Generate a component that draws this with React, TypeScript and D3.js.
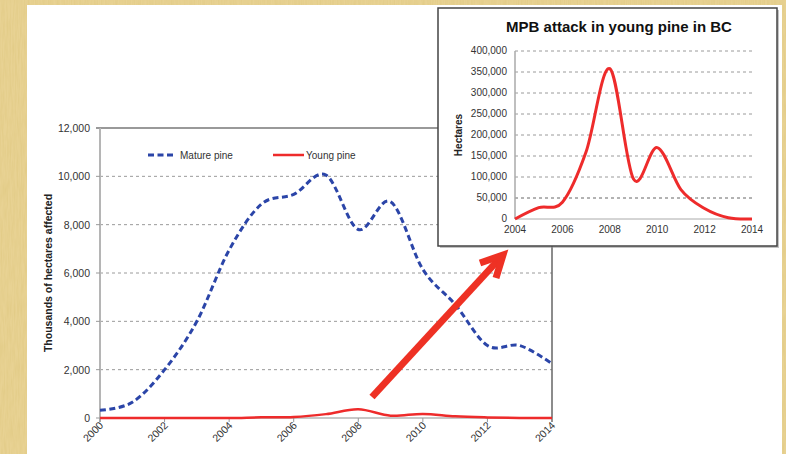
import * as d3 from 'd3';

// Mature vs young pine, thousands of hectares affected (BC)
const years = [2000, 2001, 2002, 2003, 2004, 2005, 2006, 2007, 2008, 2009, 2010, 2011, 2012, 2013, 2014];
const maturePine = [320, 650, 2000, 4000, 6950, 8850, 9250, 10050, 7800, 8950, 6150, 4700, 3000, 3000, 2250];
const youngPineK = [0, 0, 0, 0, 0, 27, 40, 160, 358, 95, 170, 70, 25, 3, 0];

// Inset: young pine, hectares
const insetYears = [2004, 2005, 2006, 2007, 2008, 2009, 2010, 2011, 2012, 2013, 2014];
const insetYoung = [0, 27000, 40000, 160000, 358000, 95000, 170000, 70000, 25000, 3000, 0];

const mainYTicks = [0, 2000, 4000, 6000, 8000, 10000, 12000];
const mainXTicks = [2000, 2002, 2004, 2006, 2008, 2010, 2012, 2014];
const insetYTicks = [0, 50000, 100000, 150000, 200000, 250000, 300000, 350000, 400000];
const insetXTicks = [2004, 2006, 2008, 2010, 2012, 2014];

const FONT = 'Liberation Sans, Arial, sans-serif';
const BLUE = '#2b45a8';
const RED = '#ee2b2b';

export default function App() {
  const fmt = d3.format(',');

  // main chart scales
  const x = d3.scaleLinear().domain([2000, 2014]).range([100, 552]);
  const y = d3.scaleLinear().domain([0, 12000]).range([418, 128]);

  // inset scales
  const ix = d3.scaleLinear().domain([2004, 2014]).range([515, 752]);
  const iy = d3.scaleLinear().domain([0, 400000]).range([219, 51]);

  const curve = d3.curveCardinal.tension(0);
  const mainLine = d3
    .line<number>()
    .x((_, i) => x(years[i]))
    .y((d) => y(d))
    .curve(curve);
  const insetLine = d3
    .line<number>()
    .x((_, i) => ix(insetYears[i]))
    .y((d) => iy(d))
    .curve(curve);

  return (
    <svg
      width={786}
      height={454}
      style={{ position: 'absolute', left: 0, top: 0, display: 'block' }}
      fontFamily={FONT}
    >
      <defs>
        <filter id="paper" x="0" y="0" width="100%" height="100%">
          <feTurbulence type="fractalNoise" baseFrequency="0.7 0.05" numOctaves="3" seed="4" />
          <feColorMatrix
            type="matrix"
            values="0 0 0 0 0.72  0 0 0 0 0.56  0 0 0 0 0.2  0 0 0 0.9 -0.28"
          />
        </filter>
      </defs>

      {/* paper background */}
      <rect width={786} height={454} fill="#e8d293" />
      <rect width={786} height={454} filter="url(#paper)" />

      {/* white panel */}
      <rect x={27} y={5} width={755} height={460} fill="#fff" />

      {/* main chart grid */}
      {mainYTicks.slice(1, -1).map((t) => (
        <line
          key={t}
          x1={100}
          x2={552}
          y1={y(t)}
          y2={y(t)}
          stroke="#9a9a9a"
          strokeWidth={1}
          strokeDasharray="3,3"
        />
      ))}

      {/* frame */}
      <line x1={96} x2={552} y1={y(12000)} y2={y(12000)} stroke="#777" strokeWidth={1.5} />
      <line x1={552} x2={552} y1={y(12000)} y2={422} stroke="#666" strokeWidth={1.5} />
      <line x1={100} x2={100} y1={y(12000)} y2={422} stroke="#b5b5b5" strokeWidth={2} />
      <line x1={100} x2={552} y1={y(0)} y2={y(0)} stroke="#b5b5b5" strokeWidth={1.5} />

      {/* y ticks */}
      {mainYTicks.map((t) => (
        <g key={t}>
          <line x1={96} x2={100} y1={y(t)} y2={y(t)} stroke="#999" />
          <text x={90} y={y(t) + 4} textAnchor="end" fontSize={10.5} fill="#333">
            {fmt(t)}
          </text>
        </g>
      ))}

      {/* x ticks */}
      {mainXTicks.map((t) => (
        <g key={t}>
          <line x1={x(t)} x2={x(t)} y1={y(0)} y2={y(0) + 4} stroke="#999" />
          <text
            transform={`translate(${x(t) + 4},${y(0) + 8}) rotate(-45)`}
            textAnchor="end"
            fontSize={10.5}
            fill="#333"
          >
            {t}
          </text>
        </g>
      ))}

      <text
        transform={`translate(52,${(y(0) + y(12000)) / 2}) rotate(-90)`}
        textAnchor="middle"
        fontSize={10.5}
        fontWeight="bold"
        fill="#222"
      >
        Thousands  of hectares affected
      </text>

      {/* series */}
      <path
        d={mainLine(maturePine) ?? ''}
        fill="none"
        stroke={BLUE}
        strokeWidth={3}
        strokeDasharray="6,3.5"
      />
      <path d={mainLine(youngPineK) ?? ''} fill="none" stroke={RED} strokeWidth={2.5} />

      {/* legend */}
      <line x1={148} x2={176} y1={155} y2={155} stroke={BLUE} strokeWidth={3} strokeDasharray="6,3.5" />
      <text x={180} y={158.5} fontSize={10} fill="#333">
        Mature pine
      </text>
      <line x1={273} x2={304} y1={155} y2={155} stroke={RED} strokeWidth={2.5} />
      <text x={306} y={158.5} fontSize={10} fill="#333">
        Young pine
      </text>

      {/* arrow */}
      <g stroke="#ee3124" strokeWidth={7} fill="none" strokeLinecap="butt" strokeLinejoin="miter">
        <line x1={372} y1={397} x2={501} y2={257} />
        <polyline points="480,263 503,255 496,278" />
      </g>

      {/* inset */}
      <rect x={440} y={10} width={339} height={238} fill="#888" opacity={0.5} />
      <rect x={438} y={8} width={339} height={238} fill="#fff" stroke="#444" strokeWidth={1.5} />

      <text x={619} y={32} textAnchor="middle" fontSize={15} fontWeight="bold" fill="#111">
        MPB attack in young pine in BC
      </text>

      {insetYTicks.slice(1).map((t) => (
        <line
          key={t}
          x1={ix(2004)}
          x2={ix(2014)}
          y1={iy(t)}
          y2={iy(t)}
          stroke={t === 50000 ? '#666' : '#9a9a9a'}
          strokeDasharray="3,3"
        />
      ))}
      <line x1={ix(2004)} x2={ix(2004)} y1={iy(400000)} y2={iy(0)} stroke="#aaa" strokeWidth={1.5} />
      <line x1={ix(2004)} x2={ix(2014)} y1={iy(0)} y2={iy(0)} stroke="#aaa" strokeWidth={1} />

      {insetYTicks.map((t) => (
        <text key={t} x={507} y={iy(t) + 3} textAnchor="end" fontSize={10} fill="#333">
          {fmt(t)}
        </text>
      ))}
      {insetXTicks.map((t) => (
        <text key={t} x={ix(t)} y={233} textAnchor="middle" fontSize={10} fill="#333">
          {t}
        </text>
      ))}
      <text
        transform={`translate(462,135) rotate(-90)`}
        textAnchor="middle"
        fontSize={10}
        fontWeight="bold"
        fill="#222"
      >
        Hectares
      </text>

      <path d={insetLine(insetYoung) ?? ''} fill="none" stroke={RED} strokeWidth={3} />
    </svg>
  );
}
